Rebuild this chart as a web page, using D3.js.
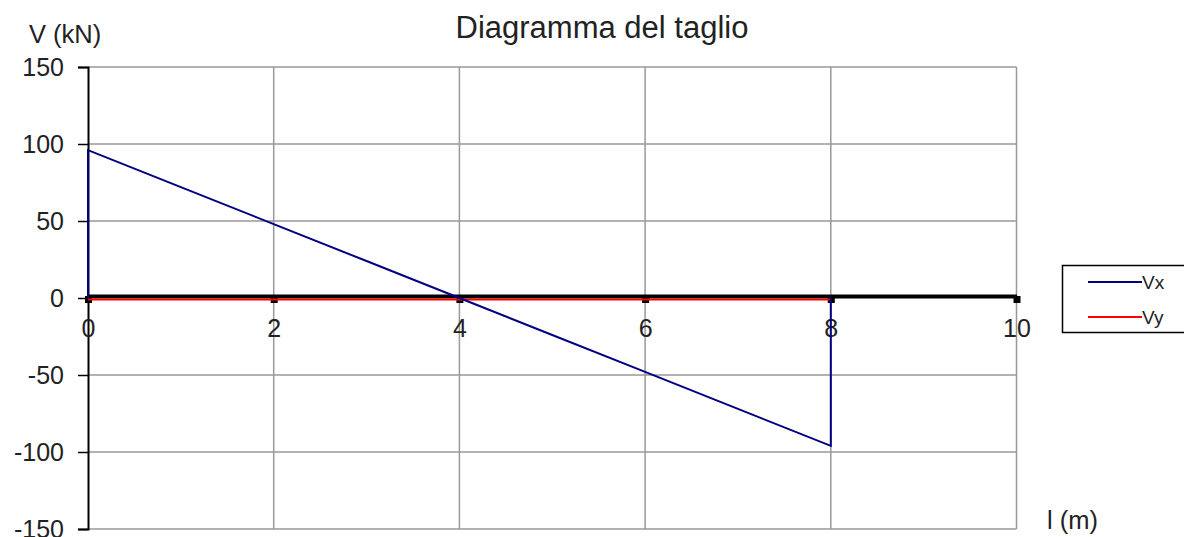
<!DOCTYPE html>
<html><head><meta charset="utf-8">
<script src="https://cdn.jsdelivr.net/npm/d3@7"></script>
<style>
html,body{margin:0;padding:0;background:#fff;}
svg{display:block;font-family:Arial,"Liberation Sans",sans-serif;}
</style></head>
<body><svg id="c" width="1184" height="537"></svg>
<script>
// Data
const xTicks = [0, 2, 4, 6, 8, 10];
const yTicks = [-150, -100, -50, 0, 50, 100, 150];
const vxPos = [0, 0, 1, 2, 3, 4, 5, 6, 7, 8, 8];
const vxVal = [0, 96, 72, 48, 24, 0, -24, -48, -72, -96, 0];
const vyPos = [0, 8];
const vyVal = [0, 0];
const seriesNames = ["Vx", "Vy"];
const seriesColors = ["#000080", "#ff0000"];

const svg = d3.select("#c");
const x = d3.scaleLinear().domain([0, 10]).range([88, 1016.5]);
const y = d3.scaleLinear().domain([-150, 150]).range([529, 67]);

// gridlines
svg.append("g").selectAll("line.h").data(yTicks.filter(d => d !== 0)).join("line")
  .attr("x1", x(0)).attr("x2", x(10)).attr("y1", d => y(d)).attr("y2", d => y(d))
  .attr("stroke", "#999").attr("stroke-width", 1.5);
svg.append("g").selectAll("line.v").data(xTicks.filter(d => d !== 0)).join("line")
  .attr("x1", d => x(d)).attr("x2", d => x(d)).attr("y1", y(150)).attr("y2", y(-150))
  .attr("stroke", "#999").attr("stroke-width", 1.5);

// y axis
const yAxis = svg.append("g").attr("transform", `translate(${x(0)},0)`)
  .call(d3.axisLeft(y).tickValues(yTicks).tickFormat(d => String(d)).tickSize(10).tickPadding(14));
yAxis.select(".domain").attr("stroke", "#000").attr("stroke-width", 2);
yAxis.selectAll(".tick line").attr("stroke", "#000").attr("stroke-width", 1.5);
yAxis.selectAll(".tick text").attr("font-size", 25).attr("fill", "#222")
  .attr("font-family", "Arial, 'Liberation Sans', sans-serif");

// x axis (thick at zero)
const xAxis = svg.append("g").attr("transform", `translate(0,${y(0) - 2})`)
  .call(d3.axisBottom(x).tickValues(xTicks).tickFormat(d => String(d)).tickSize(0).tickPadding(23));
xAxis.select(".domain").attr("stroke", "#000").attr("stroke-width", 4);
xAxis.selectAll(".tick text").attr("font-size", 25).attr("fill", "#222")
  .attr("font-family", "Arial, 'Liberation Sans', sans-serif");
xAxis.selectAll(".tick").append("rect")
  .attr("x", -3.5).attr("y", 0).attr("width", 7).attr("height", 7).attr("fill", "#000");

// series
const line = d3.line().x(d => x(d[0])).y(d => y(d[1]));
svg.append("path").datum(vyPos.map((p, i) => [p, vyVal[i]]))
  .attr("d", line).attr("transform", "translate(0,1.5)")
  .attr("fill", "none").attr("stroke", seriesColors[1]).attr("stroke-width", 2);
svg.append("path").datum(vxPos.map((p, i) => [p, vxVal[i]]))
  .attr("d", line).attr("fill", "none").attr("stroke", seriesColors[0]).attr("stroke-width", 2);

// titles
svg.append("text").attr("x", 602).attr("y", 38).attr("text-anchor", "middle")
  .attr("font-size", 31).attr("fill", "#222").text("Diagramma del taglio");
svg.append("text").attr("x", 29).attr("y", 43)
  .attr("font-size", 25.5).attr("fill", "#222").text("V (kN)");
svg.append("text").attr("x", 1047).attr("y", 529)
  .attr("font-size", 25.5).attr("fill", "#222").text("l (m)");

// legend
const lg = svg.append("g");
lg.append("rect").attr("x", 1062.5).attr("y", 265.5).attr("width", 125).attr("height", 67)
  .attr("fill", "#fff").attr("stroke", "#000").attr("stroke-width", 1.5);
seriesNames.forEach((n, i) => {
  const yy = 282 + i * 35;
  lg.append("line").attr("x1", 1088).attr("x2", 1142).attr("y1", yy).attr("y2", yy)
    .attr("stroke", seriesColors[i]).attr("stroke-width", 2);
  lg.append("text").attr("x", 1142).attr("y", yy + 6.5).attr("font-size", 19)
    .attr("fill", "#222").text(n);
});
</script></body></html>
